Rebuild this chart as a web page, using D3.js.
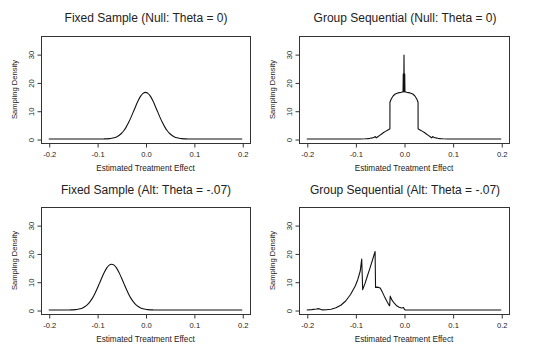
<!DOCTYPE html>
<html>
<head>
<meta charset="utf-8">
<script src="https://cdn.jsdelivr.net/npm/d3@7"></script>
<style>
  html, body { margin: 0; padding: 0; background: #fff; }
  svg { display: block; }
  text { font-family: "Liberation Sans", Arial, sans-serif; fill: #222; }
</style>
</head>
<body>
<svg id="chart" width="534" height="356"></svg>
<script>
// ---------- data ----------
const panelTitles = [
  "Fixed Sample (Null: Theta = 0)",
  "Group Sequential (Null: Theta = 0)",
  "Fixed Sample (Alt: Theta = -.07)",
  "Group Sequential (Alt: Theta = -.07)"
];
const xLabel = "Estimated Treatment Effect";
const yLabel = "Sampling Density";
const xTicks = [-0.2, -0.1, 0.0, 0.1, 0.2];
const xTickLabels = ["-0.2", "-0.1", "0.0", "0.1", "0.2"];
const yTicks = [0, 10, 20, 30];
const yTickLabels = ["0", "10", "20", "30"];

const fixedNullX = [-0.2, -0.09, -0.085, -0.08, -0.075, -0.07, -0.065, -0.06, -0.055, -0.05, -0.045, -0.04, -0.035, -0.03, -0.025, -0.02, -0.015, -0.01, -0.005, 0,
  0.005, 0.01, 0.015, 0.02, 0.025, 0.03, 0.035, 0.04, 0.045, 0.05, 0.055, 0.06, 0.065, 0.07, 0.075, 0.08, 0.085, 0.09, 0.2];
const fixedNullY = [0, 0.01, 0.04, 0.07, 0.14, 0.25, 0.45, 0.76, 1.25, 1.95, 2.93, 4.21, 5.8, 7.65, 9.68, 11.7, 13.6, 15.15, 16.15, 16.5,
  16.15, 15.15, 13.6, 11.7, 9.68, 7.65, 5.8, 4.21, 2.93, 1.95, 1.25, 0.76, 0.45, 0.25, 0.14, 0.07, 0.04, 0.01, 0];

const fixedAltX = [-0.2, -0.16, -0.155, -0.15, -0.145, -0.14, -0.135, -0.13, -0.125, -0.12, -0.115, -0.11, -0.105, -0.1, -0.095, -0.09, -0.085, -0.08, -0.075, -0.07,
  -0.065, -0.06, -0.055, -0.05, -0.045, -0.04, -0.035, -0.03, -0.025, -0.02, -0.015, -0.01, -0.005, 0, 0.005, 0.01, 0.015, 0.02, 0.2];
const fixedAltY = [0, 0.01, 0.04, 0.07, 0.14, 0.25, 0.44, 0.75, 1.23, 1.91, 2.88, 4.13, 5.7, 7.51, 9.5, 11.49, 13.35, 14.88, 15.86, 16.2,
  15.86, 14.88, 13.35, 11.49, 9.5, 7.51, 5.7, 4.13, 2.88, 1.91, 1.23, 0.75, 0.44, 0.25, 0.14, 0.07, 0.04, 0.01, 0];

const seqNullX = [-0.2, -0.09, -0.08, -0.075, -0.07, -0.065, -0.061, -0.059, -0.057, -0.054, -0.05, -0.046, -0.042, -0.038, -0.034, -0.031, -0.029,
  -0.0289, -0.027, -0.025, -0.022, -0.018, -0.014, -0.01, -0.006, -0.003, -0.002, -0.0015, -0.001, -0.0005, 0,
  0.0005, 0.001, 0.0015, 0.002, 0.003, 0.006, 0.01, 0.014, 0.018, 0.022, 0.025, 0.027, 0.0289,
  0.029, 0.031, 0.034, 0.038, 0.042, 0.046, 0.05, 0.054, 0.057, 0.059, 0.061, 0.065, 0.07, 0.075, 0.08, 0.09, 0.2];
const seqNullY = [0, 0.02, 0.08, 0.15, 0.25, 0.4, 0.6, 0.9, 0.4, 0.8, 1.3, 1.8, 2.3, 2.7, 3.1, 3.4, 3.6,
  13.0, 13.9, 14.5, 15.3, 15.9, 16.2, 16.4, 16.5, 16.6, 16.6, 23.0, 16.7, 16.7, 29.7,
  16.7, 16.7, 23.0, 16.6, 16.6, 16.5, 16.4, 16.2, 15.9, 15.3, 14.5, 13.9, 13.0,
  3.6, 3.4, 3.1, 2.7, 2.3, 1.8, 1.3, 0.8, 0.4, 0.9, 0.6, 0.4, 0.25, 0.15, 0.08, 0.02, 0];

const seqAltX = [-0.2, -0.19, -0.18, -0.176, -0.172, -0.168, -0.16, -0.15, -0.14, -0.13, -0.12, -0.11, -0.1, -0.095, -0.09, -0.087,
  -0.085, -0.08, -0.075, -0.07, -0.065, -0.0595, -0.0585, -0.055, -0.05, -0.047, -0.043, -0.039, -0.035, -0.031, -0.0295,
  -0.0283, -0.025, -0.02, -0.015, -0.01, -0.005, -0.001, 0.001, 0.003, 0.2];
const seqAltY = [0, 0.15, 0.35, 0.5, 0.3, 0.05, 0.1, 0.3, 0.8, 1.7, 3.2, 5.5, 8.6, 10.8, 13.8, 18.0,
  7.2, 9.5, 12.2, 14.8, 17.6, 20.7, 8.0, 8.1, 7.9, 7.2, 5.8, 4.3, 3.0, 1.8, 1.5,
  4.9, 3.6, 2.4, 1.5, 1.0, 0.7, 0.9, 0.2, 0, 0];

const seriesX = [fixedNullX, seqNullX, fixedAltX, seqAltX];
const seriesY = [fixedNullY, seqNullY, fixedAltY, seqAltY];

// ---------- layout ----------
const panels = [
  { left: 41, right: 250, top: 36, bottom: 143, titleY: 22, titleX: 146 },
  { left: 299, right: 509, top: 36, bottom: 143, titleY: 22, titleX: 405 },
  { left: 41, right: 250, top: 207, bottom: 314, titleY: 194, titleX: 146 },
  { left: 299, right: 509, top: 207, bottom: 314, titleY: 194, titleX: 405 }
];

const svg = d3.select("#chart");
const ink = "#222";

panels.forEach((p, i) => {
  const x = d3.scaleLinear().domain([-0.216, 0.216]).range([p.left, p.right]);
  const y = d3.scaleLinear().domain([-1.4, 36.4]).range([p.bottom, p.top]);
  const g = svg.append("g");

  // box
  g.append("rect")
    .attr("x", p.left + 0.5).attr("y", p.top + 0.5)
    .attr("width", p.right - p.left).attr("height", p.bottom - p.top)
    .attr("fill", "none").attr("stroke", "#333").attr("stroke-width", 1);

  // x axis
  const xa = g.append("g")
    .attr("transform", `translate(0.5,${p.bottom + 0.5})`)
    .call(d3.axisBottom(x).tickValues(xTicks).tickSize(4).tickPadding(4)
      .tickFormat((d, k) => xTickLabels[k]));
  xa.select(".domain").attr("d", `M${x(xTicks[0])},0H${x(xTicks[xTicks.length - 1])}`).attr("stroke", "#333");
  xa.selectAll(".tick line").attr("stroke", "#333");
  xa.selectAll(".tick text").attr("font-size", 7.6).attr("fill", ink)
    .attr("font-family", "Liberation Sans, Arial, sans-serif");

  // y axis
  const ya = g.append("g")
    .attr("transform", `translate(${p.left + 0.5},0.5)`)
    .call(d3.axisLeft(y).tickValues(yTicks).tickSize(4)
      .tickFormat((d, k) => yTickLabels[k]));
  ya.select(".domain").attr("d", `M0,${y(yTicks[0])}V${y(yTicks[yTicks.length - 1])}`).attr("stroke", "#333");
  ya.selectAll(".tick line").attr("stroke", "#333");
  ya.selectAll(".tick text")
    .attr("x", null).attr("dy", null).attr("y", null)
    .attr("text-anchor", "middle")
    .attr("transform", "translate(-8,0) rotate(-90)")
    .attr("font-size", 7.6).attr("fill", ink)
    .attr("font-family", "Liberation Sans, Arial, sans-serif");

  // curve
  const pts = seriesX[i].map((xv, k) => [xv, seriesY[i][k]]);
  g.append("path")
    .datum(pts)
    .attr("fill", "none")
    .attr("stroke", "#111")
    .attr("stroke-width", 1.1)
    .attr("stroke-linejoin", "round")
    .attr("d", d3.line().x(d => x(d[0])).y(d => y(d[1]))
      .curve(i % 2 === 0 ? d3.curveMonotoneX : d3.curveLinear));

  // title
  g.append("text")
    .attr("x", p.titleX).attr("y", p.titleY)
    .attr("text-anchor", "middle")
    .attr("font-size", 12)
    .text(panelTitles[i]);

  // x label
  g.append("text")
    .attr("x", (p.left + p.right) / 2).attr("y", p.bottom + 28)
    .attr("text-anchor", "middle")
    .attr("font-size", 8.2)
    .text(xLabel);

  // y label
  g.append("text")
    .attr("transform", `translate(${p.left - 24},${(p.top + p.bottom) / 2}) rotate(-90)`)
    .attr("text-anchor", "middle")
    .attr("font-size", 7.6)
    .text(yLabel);
});
</script>
</body>
</html>
